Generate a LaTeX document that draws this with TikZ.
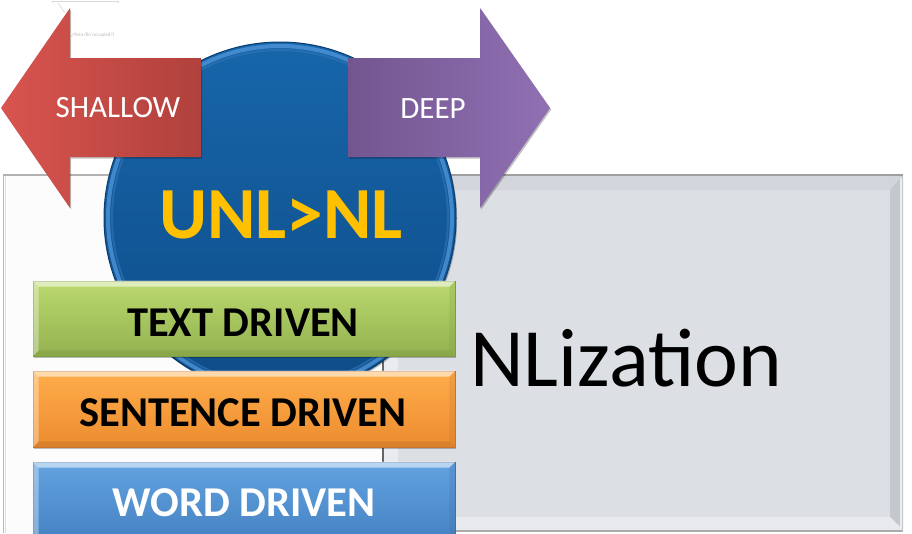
\documentclass[tikz,border=0pt]{standalone}
\usepackage{fontspec}
\setmainfont{Carlito}
\usetikzlibrary{shadows}
\definecolor{redL}{HTML}{D9544F}
\definecolor{redR}{HTML}{B0413C}
\definecolor{purL}{HTML}{735690}
\definecolor{purR}{HTML}{9070B3}
\definecolor{grnT}{HTML}{BBDA6E}
\definecolor{grnB}{HTML}{93B14F}
\definecolor{grnD}{HTML}{7F9B42}
\definecolor{orgT}{HTML}{FFAD4A}
\definecolor{orgB}{HTML}{EC8C2F}
\definecolor{orgD}{HTML}{C7742C}
\definecolor{bluT}{HTML}{62A3E0}
\definecolor{bluB}{HTML}{4682C3}
\definecolor{bluD}{HTML}{3D70A8}
\definecolor{circT}{HTML}{1766AA}
\definecolor{circB}{HTML}{0E4C88}
\definecolor{rim}{HTML}{4A90D4}
\definecolor{rimD}{HTML}{0B3C6E}
\definecolor{uyel}{HTML}{FFC000}
\definecolor{pbase}{HTML}{DCE0E4}
\definecolor{ptop}{HTML}{D2D5DB}
\definecolor{pleft}{HTML}{E9EBEE}
\definecolor{pright}{HTML}{C4C7CD}
\definecolor{pbot}{HTML}{E8EAED}
\tikzset{
  sh/.style={drop shadow={shadow xshift=1.2pt, shadow yshift=-1.5pt, opacity=0.25, fill=black}},
  bar/.style={rectangle, inner sep=0pt, minimum width=422pt, sh},
  bartext/.style={anchor=base, font=\bfseries\fontsize{42.5}{42.5}\selectfont},
  arrowtext/.style={anchor=base, text=white, font=\fontsize{31}{31}\selectfont},
}
\newcommand{\mybevel}[3]{%
  \fill[#2, opacity=0.55] (#1.north west) -- (#1.north east) -- ([shift={(-6,6)}]#1.north east) -- ([shift={(6,6)}]#1.north west) -- cycle;
  \fill[#3, opacity=0.45] (#1.south west) -- (#1.south east) -- ([shift={(-6,-6)}]#1.south east) -- ([shift={(6,-6)}]#1.south west) -- cycle;
  \fill[#2, opacity=0.35] (#1.north west) -- ([shift={(6,6)}]#1.north west) -- ([shift={(6,-6)}]#1.south west) -- (#1.south west) -- cycle;
  \fill[#3, opacity=0.25] (#1.north east) -- ([shift={(-6,6)}]#1.north east) -- ([shift={(-6,-6)}]#1.south east) -- (#1.south east) -- cycle;
}
\begin{document}
\begin{tikzpicture}[x=1pt,y=-1pt]
\useasboundingbox (0,0) rectangle (912,533);
\fill[white] (0,0) rectangle (912,533);

% faint callout at top left
\draw[gray!30, line width=0.6pt] (52,3) -- (52,1) -- (118,1) -- (118,3);
\draw[gray!35, line width=0.5pt] (58,3) -- (65,13);
\node[anchor=base west, text=gray!55, inner sep=0pt, font=\fontsize{5}{5}\selectfont] (note) at (71,36) {¿Pista (fin occupied?)};

% left panel
\fill[gray!2] (3,175) rectangle (383,540);
\draw[gray!55, line width=1pt] (3,175) -- (3,533);
\draw[gray!25, line width=1pt] (5,175) -- (5,533);
\draw[gray!60, line width=1.5pt] (3,175) -- (383,175);

% right panel with bevel
\fill[pbase] (383,175) rectangle (903,530);
\fill[ptop] (383,175) -- (903,175) -- (890,190) -- (398,190) -- cycle;
\fill[pleft] (383,175) -- (398,190) -- (398,517) -- (383,530) -- cycle;
\fill[pright] (903,175) -- (903,530) -- (890,517) -- (890,190) -- cycle;
\fill[pbot] (383,530) -- (398,517) -- (890,517) -- (903,530) -- cycle;
\draw[gray!15, line width=2pt] (901,178) -- (901,528);
\draw[gray!75, line width=2pt] (383,175) -- (903,175);
\draw[gray!80!black, line width=1.5pt] (383,175) -- (383,533);
\draw[gray!65, line width=1.5pt] (383,531) -- (903,531);
\node[anchor=base west, inner sep=0pt, font=\fontsize{83}{83}\selectfont] (nliz) at (470,386) {NLization};

% circle
\node[circle, minimum size=352pt, inner sep=0pt, top color=circT, bottom color=circB, draw=rimD, line width=1pt, sh] (circ) at (280,218) {};
\draw[rim, line width=4pt, opacity=0.85] (circ.center) circle (172);
\draw[rim!60!circB, line width=2pt, opacity=0.6] (circ.center) circle (168);
\node[anchor=base, text=uyel, font=\bfseries\fontsize{73.5}{73.5}\selectfont] (unl) at (281,238) {UNL>NL};

% SHALLOW arrow
\path[left color=redL, right color=redR, sh] (201,58) -- (70,58) -- (70,8) -- (1,108) -- (70,208) -- (70,157) -- (201,157) -- cycle;
\coordinate (shc) at (118,117);
\node[arrowtext] (shallow) at (shc) {SHALLOW};

% DEEP arrow
\path[left color=purL, right color=purR, sh] (348,58) -- (480,58) -- (480,8) -- (550,108) -- (480,208) -- (480,157) -- (348,157) -- cycle;
\coordinate (dpc) at (433,118);
\node[arrowtext] (deep) at (dpc) {DEEP};

% bars
\node[bar, minimum height=75pt, top color=grnT, bottom color=grnB, draw=grnD, line width=0.8pt] (green) at (244,318.5) {};
\mybevel{green}{white}{grnD}
\node[bartext] (textd) at (243,336) {TEXT DRIVEN};

\node[bar, minimum height=76pt, top color=orgT, bottom color=orgB, draw=orgD, line width=0.8pt] (orange) at (244,409) {};
\mybevel{orange}{white}{orgD}
\node[bartext] (sentd) at (243,426) {SENTENCE DRIVEN};

\node[bar, minimum height=78pt, top color=bluT, bottom color=bluB, draw=bluD, line width=0.8pt] (blue) at (244,501) {};
\mybevel{blue}{white}{bluD}
\node[bartext, text=white] (wordd) at (244,516) {WORD DRIVEN};
\end{tikzpicture}
\end{document}
